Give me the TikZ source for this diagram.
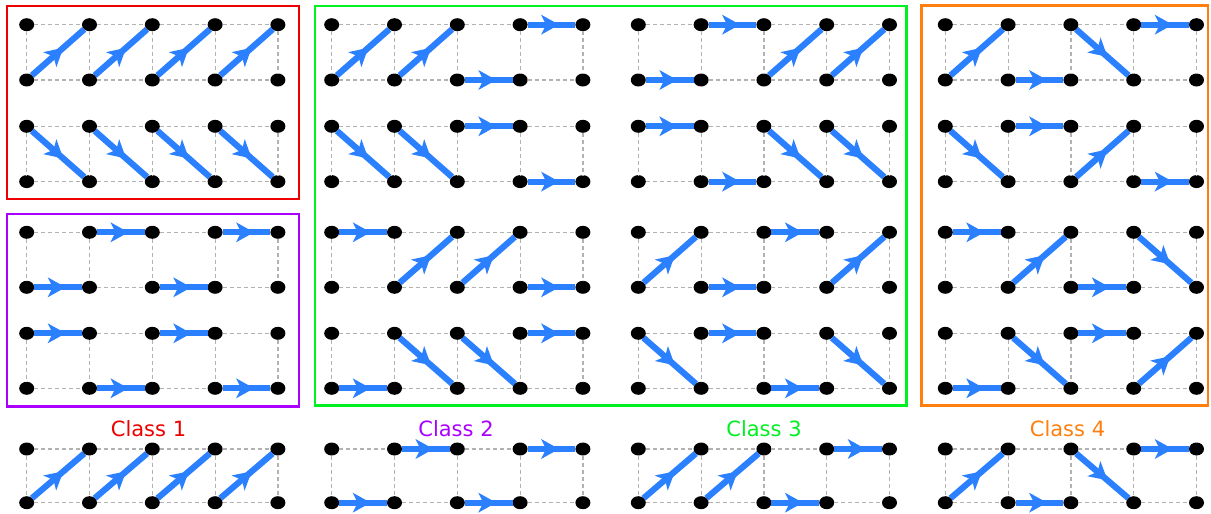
\documentclass[tikz,border=0pt]{standalone}
\usepackage{fontspec}
\newfontfamily\labelfont{DejaVu Sans}
\usetikzlibrary{decorations.markings,shapes.geometric}
\definecolor{flowblue}{HTML}{2B80FF}
\definecolor{c1red}{HTML}{EE0000}
\definecolor{c2purple}{HTML}{AA00FF}
\definecolor{c3green}{HTML}{00F022}
\definecolor{c4orange}{HTML}{FF7F0E}
\tikzset{
  dot/.style={ellipse,fill=black,minimum width=15pt,minimum height=13pt,inner sep=0pt,outer sep=0pt},
  gridline/.style={draw=black!30,dash pattern=on 4pt off 3pt,line width=1.2pt},
  flow/.style={draw=flowblue,line width=6.2pt,postaction={decorate},
    decoration={markings,mark=at position 0.47 with {\fill[flowblue] (9pt,0pt) -- (-9pt,10pt) -- (-4pt,0pt) -- (-9pt,-10pt) -- cycle;}}},
  classbox/.style={line width=2.8pt},
  classlabel/.style={font=\labelfont\fontsize{21}{24}\selectfont,anchor=base,inner sep=0pt}
}
\newcommand\edgeU[3]{\draw[flow] (#1B#2) -- (#1T#3);}
\newcommand\edgeD[3]{\draw[flow] (#1T#2) -- (#1B#3);}
\newcommand\edget[3]{\draw[flow] (#1T#2) -- (#1T#3);}
\newcommand\edgeb[3]{\draw[flow] (#1B#2) -- (#1B#3);}
\newcommand\ladder[5]{%
  \foreach \i in {0,...,4}{
    \node[dot] (#1T\i) at ({#2+62.8*\i},#3) {};
    \node[dot] (#1B\i) at ({#2+62.8*\i},{#3+#4}) {};
    \draw[gridline] (#1T\i) -- (#1B\i);
  }
  \foreach \i [evaluate=\i as \j using int(\i+1)] in {0,...,3}{
    \draw[gridline] (#1T\i) -- (#1T\j);
    \draw[gridline] (#1B\i) -- (#1B\j);
  }
  \foreach \e [count=\k from 0] in {#5}{
    \pgfmathtruncatemacro{\kk}{\k+1}
    \csname edge\e\endcsname{#1}{\k}{\kk}
  }
}
\begin{document}
\begin{tikzpicture}[x=1pt,y=-1pt]
\path[use as bounding box] (0,0) rectangle (1211,514);
% boxes
\draw[classbox,c1red] (7,6) rectangle (299,199);
\draw[classbox,c2purple] (7,214) rectangle (299,406.5);
\draw[classbox,c3green] (315,6) rectangle (906.5,405.5);
\draw[classbox,c4orange] (921.5,5.5) rectangle (1208,405.5);
% class 1
\ladder{ra}{26.7}{24.7}{55.3}{U,U,U,U}
\ladder{rb}{26.7}{126.3}{55.3}{D,D,D,D}
% class 2
\ladder{pa}{26.7}{232.3}{55}{b,t,b,t}
\ladder{pb}{26.7}{333.3}{55}{t,b,t,b}
% class 3
\ladder{ga}{331.7}{24.7}{55.3}{U,U,b,t}
\ladder{gb}{331.7}{126.3}{55.3}{D,D,t,b}
\ladder{gc}{331.7}{232.3}{55}{t,U,U,b}
\ladder{gd}{331.7}{333.3}{55}{b,D,D,t}
\ladder{ge}{638.3}{24.7}{55.3}{b,t,U,U}
\ladder{gf}{638.3}{126.3}{55.3}{t,b,D,D}
\ladder{gg}{638.3}{232.3}{55}{U,b,t,U}
\ladder{gh}{638.3}{333.3}{55}{D,t,b,D}
% class 4
\ladder{oa}{945.3}{24.7}{55.3}{U,b,D,t}
\ladder{ob}{945.3}{126.3}{55.3}{D,t,U,b}
\ladder{oc}{945.3}{232.3}{55}{t,U,b,D}
\ladder{od}{945.3}{333.3}{55}{b,D,t,U}
% representatives
\ladder{sa}{26.7}{449}{53.7}{U,U,U,U}
\ladder{sb}{331.7}{449}{53.7}{b,t,b,t}
\ladder{sc}{638.3}{449}{53.7}{U,U,b,t}
\ladder{sd}{945.3}{449}{53.7}{U,b,D,t}
% labels
\node[classlabel,text=c1red] (l1) at (148.5,436) {Class 1};
\node[classlabel,text=c2purple] (l2) at (456,436) {Class 2};
\node[classlabel,text=c3green] (l3) at (764,436) {Class 3};
\node[classlabel,text=c4orange] (l4) at (1067.5,436) {Class 4};
\end{tikzpicture}
\end{document}
